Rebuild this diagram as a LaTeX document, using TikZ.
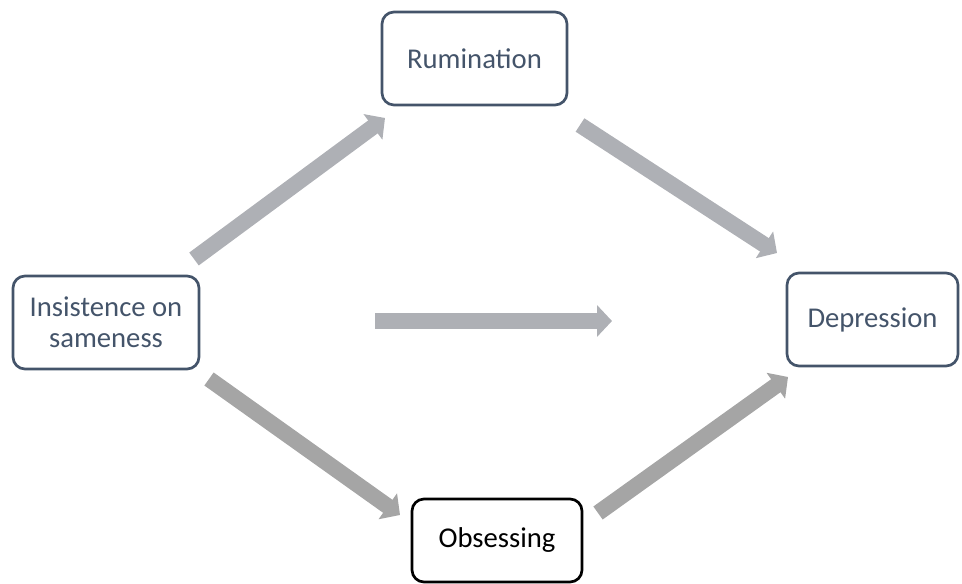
\documentclass[tikz,border=0pt]{standalone}
\usepackage{fontspec}
\setmainfont{Carlito}
\usetikzlibrary{arrows.meta}
\definecolor{slate}{HTML}{44546A}
\definecolor{lgray}{HTML}{AEB0B5}
\definecolor{dgray}{HTML}{A5A5A5}
\begin{document}
\begin{tikzpicture}[x=0.75pt, y=-0.75pt, font=\fontsize{21.5}{23.5}\selectfont,
	box/.style={draw=slate, text=slate, line width=2pt, rounded corners=9pt, outer sep=0pt, align=center, minimum height=69.75pt},
	flow/.style={line width=12pt, -{Triangle[width=23.25pt, length=11.25pt]}}]
	\useasboundingbox (0,0) rectangle (962,584);
	\node[box, minimum width=139.5pt] (ins) at (106,322.5) {Insistence on\\sameness};
	\node[box, minimum width=138.75pt] (rum) at (474.5,58.5) {Rumination};
	\node[box, minimum width=128.25pt] (dep) at (872.5,319.5) {Depression};
	\node[box, draw=black, text=black, minimum width=127.5pt, minimum height=62.25pt] (obs) at (497,540.5) {Obsessing};
	\path (375,321) coordinate (m1) (612,321) coordinate (m2);
	% upper path
	\draw[flow, lgray] ([shift={(-5,-17)}]ins.north east) -- ([shift={(3,13)}]rum.south west);
	\draw[flow, lgray] ([shift={(13,20)}]rum.south east) -- ([shift={(-10,-20)}]dep.north west);
	\draw[flow, lgray] (m1) -- (m2);
	% lower path
	\draw[flow, dgray] ([shift={(10,10)}]ins.south east) -- ([shift={(-12,16)}]obs.north west);
	\draw[flow, dgray] ([shift={(16,14)}]obs.north east) -- ([shift={(1,11)}]dep.south west);
\end{tikzpicture}
\end{document}
